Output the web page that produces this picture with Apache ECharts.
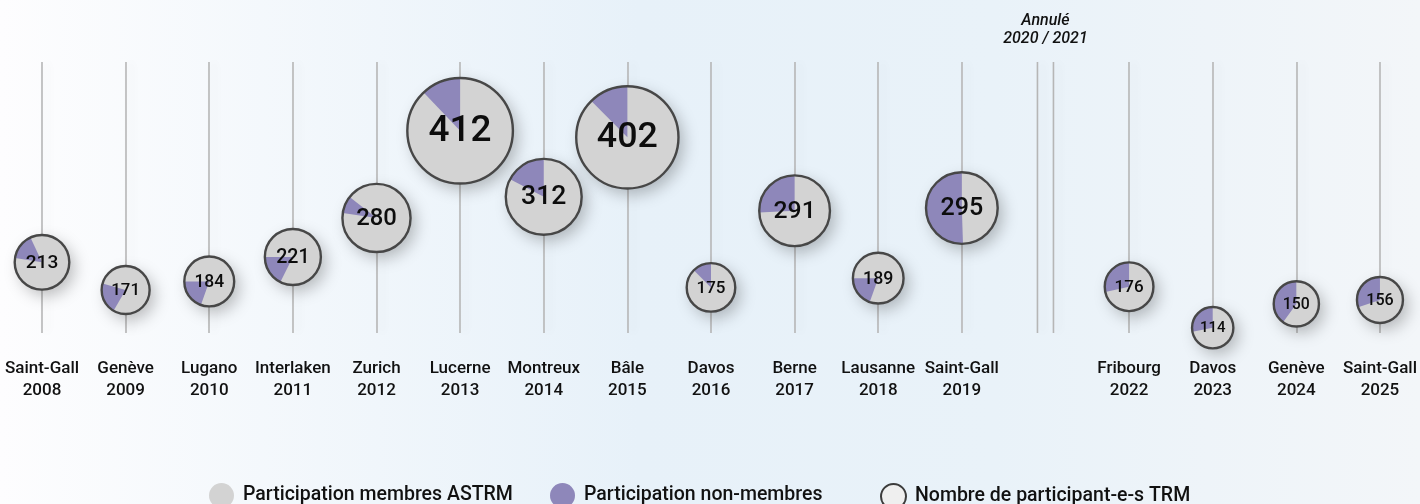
<!DOCTYPE html>
<html><head><meta charset="utf-8">
<script src="https://cdn.jsdelivr.net/npm/echarts@6/dist/echarts.min.js"></script>
<style>html,body{margin:0;padding:0;background:#fff}#c{width:1420px;height:504px}</style>
</head><body><div id="c"></div>
<script>
// ---- data ----
const cities = ['Saint-Gall','Genève','Lugano','Interlaken','Zurich','Lucerne','Montreux','Bâle','Davos','Berne','Lausanne','Saint-Gall','','Fribourg','Davos','Genève','Saint-Gall'];
const years  = ['2008','2009','2010','2011','2012','2013','2014','2015','2016','2017','2018','2019','','2022','2023','2024','2025'];
const totalParticipants = [213,171,184,221,280,412,312,402,175,291,189,295,null,176,114,150,156];
const members           = [180,135,148,182,257,362,258,352,153,216,152,146,null,126, 82, 90,109];
const nonMembers        = [ 33, 36, 36, 39, 23, 50, 54, 50, 22, 75, 37,149,null, 50, 32, 60, 47];
const cancelledIndex = 12;
const cancelledText = ['Annulé', '2020 / 2021'];
const seriesNames = ['Participation membres ASTRM','Participation non-membres','Nombre de participant-e-s TRM'];

// ---- styling ----
const FONT = '"Liberation Sans", Arial, Helvetica, sans-serif';
const FONT_M = 'Roboto, "Liberation Sans", Arial, sans-serif';
const GRAY = '#d3d3d3', PURPLE = '#8e87ba', RIM = '#474747', LINE = '#b6b6b6';
const Y_MIN = 106, Y_MAX = 516;
function diameter(v){ return 36 + 0.00041 * v * v; }
// where each wedge ends, clockwise degrees from 12 o'clock (default 360)
const wedgeEndDeg = {0:335, 1:286, 2:270, 3:270, 4:308, 10:270};

const categories = cities.map((c, i) => c ? c + '\n' + years[i] : '');
const rows = [];
totalParticipants.forEach((t, i) => { if (t != null) rows.push([i, t, members[i], nonMembers[i]]); });

function geom(api){
  const i = api.value(0), v = api.value(1);
  const p = api.coord([i, v]);
  return {i, v, cx: p[0], cy: p[1], r: diameter(v) / 2};
}
const rad = d => (d - 90) * Math.PI / 180;

const chart = echarts.init(document.getElementById('c'), null, {renderer: 'canvas'});
chart.setOption({
  animation: false,
  backgroundColor: {type: 'linear', x: 0, y: 0, x2: 1, y2: 0, colorStops: [
    {offset: 0, color: '#fdfdfe'}, {offset: 0.45, color: '#e7f1f9'},
    {offset: 0.7, color: '#e9f2f9'}, {offset: 1, color: '#f3f6f9'}]},
  textStyle: {fontFamily: FONT},
  grid: {left: 42, right: 39, top: 62, bottom: 171},
  xAxis: {
    type: 'category', data: categories, boundaryGap: false,
    axisLine: {show: false}, axisTick: {show: false},
    axisLabel: {interval: 0, margin: 25, fontSize: 17, lineHeight: 22, color: '#111', fontFamily: FONT_M, fontWeight: 500},
    splitLine: {show: true, interval: (idx) => idx !== cancelledIndex,
      lineStyle: {color: LINE, width: 1.6, shadowColor: 'rgba(0,0,0,0.08)', shadowBlur: 8, shadowOffsetX: 5}}
  },
  yAxis: {type: 'value', min: Y_MIN, max: Y_MAX, show: false},
  legend: [0, 1, 2].map((k) => ({
    left: [204, 545, 875][k], top: 478, itemWidth: 25, itemHeight: 25,
    icon: 'circle',
    textStyle: {fontSize: 19.5, color: '#111', fontFamily: FONT_M, fontWeight: 500, padding: [0, 0, 0, 4]},
    selectedMode: false,
    data: [{name: seriesNames[k], itemStyle: [
      {color: GRAY}, {color: PURPLE}, {color: '#efefef', borderColor: '#3c3c3c', borderWidth: 2}][k]}]
  })),
  series: [
    {
      name: 'cancelled', type: 'custom', data: [[cancelledIndex, Y_MIN]], encode: {x: 0, y: 1}, silent: true,
      renderItem(params, api){
        const x = api.coord([api.value(0), Y_MIN])[0];
        const cs = params.coordSys;
        const ln = (dx) => ({type: 'line', shape: {x1: x + dx, y1: cs.y, x2: x + dx, y2: cs.y + cs.height},
          style: {stroke: LINE, lineWidth: 1.6, shadowColor: 'rgba(0,0,0,0.08)', shadowBlur: 8, shadowOffsetX: 5}});
        const tx = (t, dy) => ({type: 'text', style: {text: t, x: x, y: cs.y + dy, align: 'center', verticalAlign: 'middle',
          fontSize: 16, fontStyle: 'italic', fontWeight: 500, fontFamily: FONT_M, fill: '#111'}});
        return {type: 'group', children: [ln(-8), ln(8), tx(cancelledText[0], -41), tx(cancelledText[1], -23)]};
      }
    },
    {
      name: seriesNames[0], type: 'custom', data: rows, encode: {x: 0, y: 1}, itemStyle: {color: GRAY},
      renderItem(params, api){
        const g = geom(api);
        return {type: 'circle', shape: {cx: g.cx, cy: g.cy, r: g.r},
          style: {fill: GRAY, shadowBlur: 16, shadowColor: 'rgba(0,0,0,0.26)', shadowOffsetX: 5, shadowOffsetY: 6}};
      }
    },
    {
      name: seriesNames[1], type: 'custom', data: rows, encode: {x: 0, y: 1}, itemStyle: {color: PURPLE},
      renderItem(params, api){
        const g = geom(api);
        const frac = api.value(3) / api.value(1);
        const end = wedgeEndDeg[g.i] != null ? wedgeEndDeg[g.i] : 360;
        const start = end - frac * 360;
        return {type: 'sector', shape: {cx: g.cx, cy: g.cy, r: g.r, r0: 0, startAngle: rad(start), endAngle: rad(end), clockwise: true},
          style: {fill: PURPLE}};
      }
    },
    {
      name: seriesNames[2], type: 'custom', data: rows, encode: {x: 0, y: 1}, itemStyle: {color: '#efefef'},
      renderItem(params, api){
        const g = geom(api);
        const fs = Math.max(15, 0.7 * g.r);
        return {type: 'group', children: [
          {type: 'circle', shape: {cx: g.cx, cy: g.cy, r: g.r}, style: {fill: 'none', stroke: RIM, lineWidth: 2.4}},
          {type: 'text', style: {text: String(g.v), x: g.cx, y: g.cy + 1, align: 'center', verticalAlign: 'middle',
            fontSize: fs, fontFamily: FONT_M, fontWeight: 500, fill: '#0d0d0d'}}
        ]};
      }
    }
  ]
});
</script></body></html>
